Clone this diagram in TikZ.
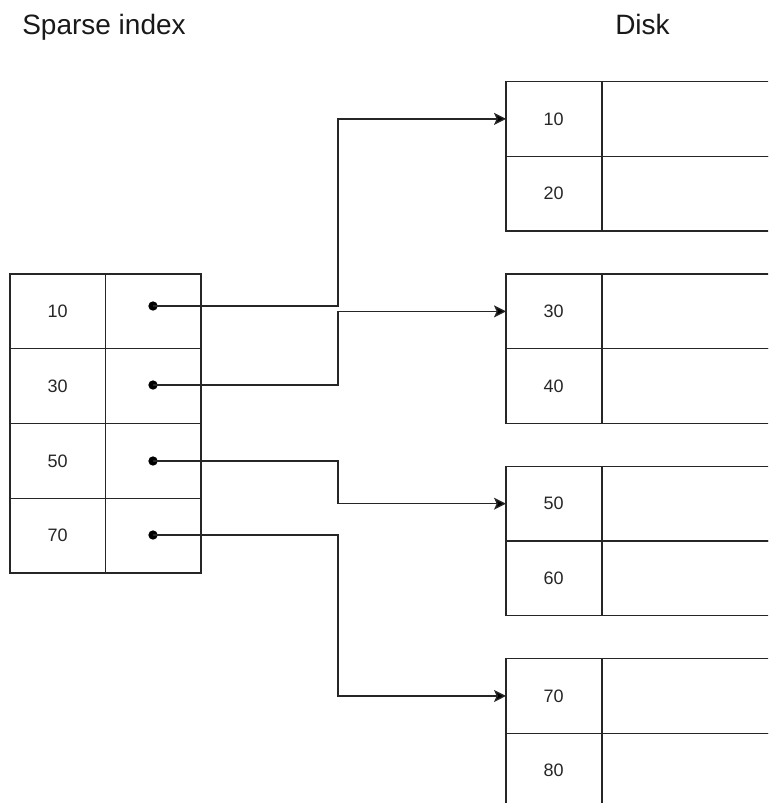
\documentclass[tikz,border=0pt]{standalone}
\usepackage{fontspec}
\setmainfont{Liberation Sans}
\usetikzlibrary{arrows.meta}
\begin{document}
\begin{tikzpicture}[x=0.75pt,y=-0.75pt,
  cellbox/.style={draw=black!85, line width=1pt, inner sep=0pt, outer sep=0pt,
    anchor=north west, minimum width=71.6pt, minimum height=56.06pt,
    font=\fontsize{13.5pt}{16pt}\selectfont, text=black!85},
  widebox/.style={cellbox, minimum width=160pt},
  dotmark/.style={circle, fill=black, inner sep=0pt, minimum size=7pt},
  titletext/.style={anchor=base west, inner sep=0pt, font=\fontsize{21pt}{25pt}\selectfont, text=black!90},
  arr/.style={draw=black!85, line width=1pt, -{Stealth[length=9pt,width=9pt,inset=2pt,fill=black]}}]
\useasboundingbox (0,0) rectangle (768,803);
\clip (0,0) rectangle (768,803);

% titles
\node[titletext] (tl) at (22,34.5) {Sparse index};
\node[titletext] (tr) at (615,34.5) {Disk};

% sparse index table
\foreach \i/\v/\y in {1/10/274, 2/30/348.75, 3/50/423.5, 4/70/498.25}{
  \node[cellbox] (k\i) at (10,\y) {\v};
  \node[cellbox] (p\i) at (105.5,\y) {};
}

% disk blocks
\foreach \g/\a/\b/\y in {1/10/20/81.5, 2/30/40/274, 3/50/60/466.3, 4/70/80/658.6}{
  \node[cellbox] (r\g a) at (506,\y) {\a};
  \node[widebox] (s\g a) at (602,\y) {};
  \node[cellbox] (r\g b) at (506,\y+74.75) {\b};
  \node[widebox] (s\g b) at (602,\y+74.75) {};
}

% pointer dots
\node[dotmark] (d1) at (153,306) {};
\node[dotmark] (d2) at (153,385) {};
\node[dotmark] (d3) at (153,461) {};
\node[dotmark] (d4) at (153,535) {};

\coordinate (mid) at (338,0);

\foreach \i in {1,2,3,4}{
  \draw[arr] (d\i.center) -- (d\i.center -| mid) |- (r\i a.west);
}
\end{tikzpicture}
\end{document}
